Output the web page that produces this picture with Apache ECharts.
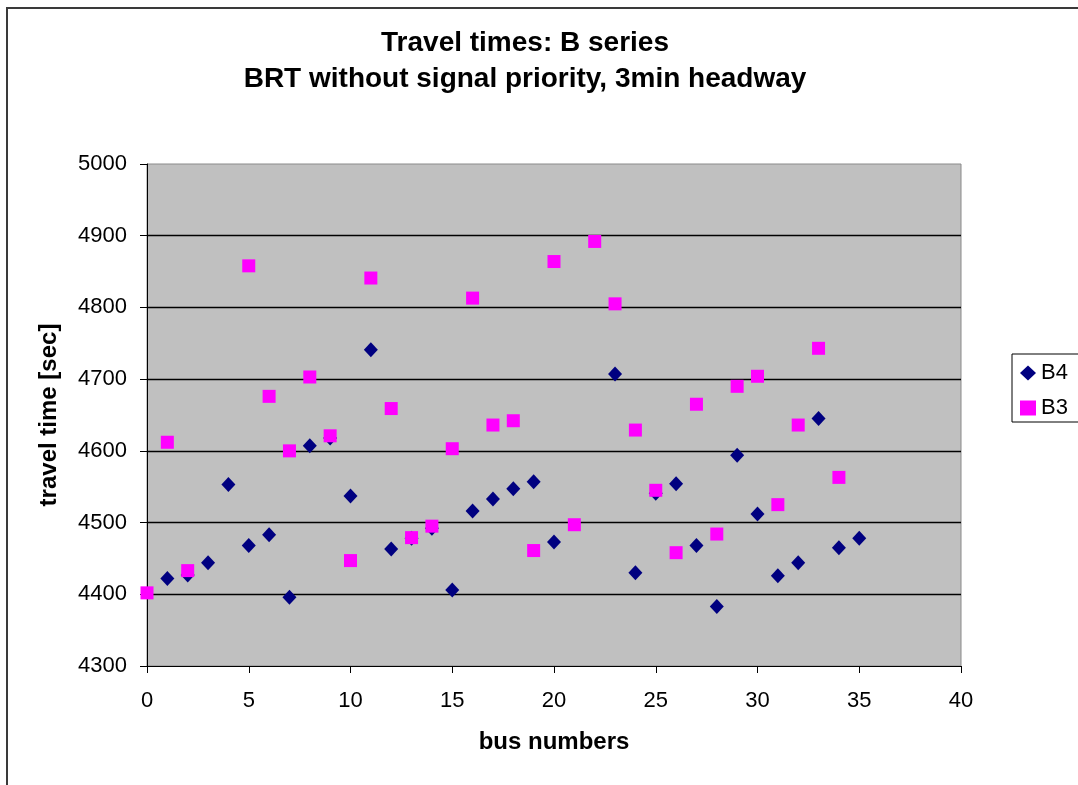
<!DOCTYPE html>
<html>
<head>
<meta charset="utf-8">
<title>Travel times: B series</title>
<script src="https://cdn.jsdelivr.net/npm/echarts@6/dist/echarts.min.js"></script>
<style>
  html, body { margin: 0; padding: 0; background: #ffffff; }
  #chart { width: 1078px; height: 785px; }
</style>
</head>
<body>
<div id="chart"></div>
<script>
// Bus numbers and travel times [sec] for each run
const b4Bus = [1, 2, 3, 4, 5, 6, 7, 8, 9, 10, 11, 12, 13, 14, 15, 16, 17, 18, 19, 20,
               23, 24, 25, 26, 27, 28, 29, 30, 31, 32, 33, 34, 35];
const b4Time = [4422, 4427, 4444, 4553, 4468, 4483, 4396, 4607, 4618, 4537, 4741, 4463, 4478, 4492, 4406, 4516, 4533, 4547, 4557, 4473,
                4707, 4430, 4541, 4554, 4468, 4383, 4594, 4512, 4426, 4444, 4645, 4465, 4478];

const b3Bus = [0, 1, 2, 5, 6, 7, 8, 9, 10, 11, 12, 13, 14, 15, 16, 17, 18, 19, 20, 21,
               22, 23, 24, 25, 26, 27, 28, 29, 30, 31, 32, 33, 34];
const b3Time = [4402, 4612, 4433, 4858, 4676, 4600, 4703, 4621, 4447, 4841, 4659, 4479, 4495, 4603, 4813, 4636, 4642, 4461, 4864, 4497,
                4892, 4805, 4629, 4545, 4458, 4665, 4484, 4690, 4704, 4525, 4636, 4743, 4563];

const seriesNames = ['B4', 'B3'];
const titleLines = ['Travel times: B series', 'BRT without signal priority, 3min headway'];
const xAxisTitle = 'bus numbers';
const yAxisTitle = 'travel time [sec]';

const FONT = '"Liberation Sans", Arial, sans-serif';

function pairs(xs, ys) {
  return xs.map((x, i) => [x, ys[i]]);
}

// plain integers, no thousands separator
const plainNumber = (v) => String(Math.round(v));

const chart = echarts.init(document.getElementById('chart'), null, { renderer: 'canvas' });

chart.setOption({
  backgroundColor: '#ffffff',
  animation: false,
  title: {
    text: titleLines.join('\n'),
    left: 520,
    top: 20,
    textAlign: 'center',
    textStyle: {
      fontFamily: FONT,
      fontSize: 28,
      fontWeight: 'bold',
      color: '#000000',
      lineHeight: 36
    }
  },
  graphic: [{
    type: 'rect',
    silent: true,
    shape: { x: 7, y: 8, width: 1200, height: 900 },
    style: { fill: 'none', stroke: '#3a3a3a', lineWidth: 2 },
    z: 100
  }],
  legend: {
    orient: 'vertical',
    left: 1012,
    top: 354,
    padding: [8, 30, 3, 8],
    itemGap: 13,
    itemWidth: 16,
    itemHeight: 15,
    borderColor: '#000000',
    borderWidth: 1,
    backgroundColor: '#ffffff',
    textStyle: { fontFamily: FONT, fontSize: 22, color: '#000000' },
    data: [
      { name: seriesNames[0], icon: 'diamond' },
      { name: seriesNames[1], icon: 'rect' }
    ]
  },
  grid: {
    left: 147,
    right: 117,
    top: 164,
    bottom: 119,
    show: true,
    backgroundColor: '#c0c0c0',
    borderColor: '#8a8a8a',
    borderWidth: 1
  },
  xAxis: {
    type: 'value',
    min: 0,
    max: 40,
    interval: 5,
    name: xAxisTitle,
    nameLocation: 'middle',
    nameGap: 64,
    nameTextStyle: { fontFamily: FONT, fontSize: 24, fontWeight: 'bold', color: '#000000' },
    axisLine: { show: true, onZero: false, lineStyle: { color: '#000000', width: 1 } },
    axisTick: { show: true, inside: false, length: 7, lineStyle: { color: '#000000' } },
    axisLabel: { margin: 24, fontFamily: FONT, fontSize: 22, color: '#000000', formatter: plainNumber },
    splitLine: { show: false }
  },
  yAxis: {
    type: 'value',
    min: 4300,
    max: 5000,
    interval: 100,
    name: yAxisTitle,
    nameLocation: 'middle',
    nameGap: 86,
    nameTextStyle: { fontFamily: FONT, fontSize: 24, fontWeight: 'bold', color: '#000000' },
    axisLine: { show: true, onZero: false, lineStyle: { color: '#000000', width: 1 } },
    axisTick: { show: true, inside: false, length: 7, lineStyle: { color: '#000000' } },
    axisLabel: { margin: 20, fontFamily: FONT, fontSize: 22, color: '#000000', formatter: plainNumber },
    splitLine: {
      show: true,
      showMinLine: false,
      showMaxLine: false,
      lineStyle: { color: '#000000', width: 1.4 }
    }
  },
  series: [
    {
      name: seriesNames[0],
      type: 'scatter',
      symbol: 'diamond',
      symbolSize: [14, 15],
      itemStyle: { color: '#000080', opacity: 1 },
      data: pairs(b4Bus, b4Time),
      z: 2
    },
    {
      name: seriesNames[1],
      type: 'scatter',
      symbol: 'rect',
      symbolSize: [13, 13],
      itemStyle: { color: '#ff00ff', opacity: 1 },
      data: pairs(b3Bus, b3Time),
      z: 3
    }
  ]
});
</script>
</body>
</html>
